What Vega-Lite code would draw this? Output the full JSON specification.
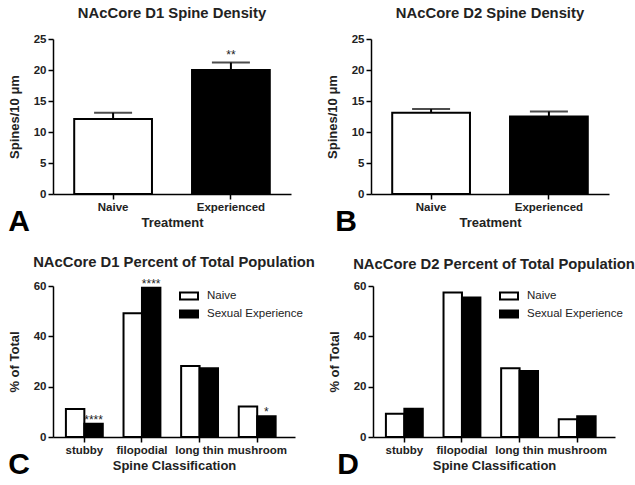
{
  "$schema": "https://vega.github.io/schema/vega-lite/v6.json",
  "padding": {"left": 8, "top": 6, "right": 5, "bottom": 5},
  "background": "white",
  "spacing": 17,
  "resolve": {"scale": {"fill": "independent"}, "legend": {"fill": "independent"}},
  "datasets": {
    "d1density": [
      {"treatment": "Naive", "mean": 12.1, "upper": 13.1, "sig": ""},
      {"treatment": "Experienced", "mean": 20.0, "upper": 21.2, "sig": "**"}
    ],
    "d2density": [
      {"treatment": "Naive", "mean": 13.1, "upper": 13.7, "sig": ""},
      {"treatment": "Experienced", "mean": 12.5, "upper": 13.3, "sig": ""}
    ],
    "d1pct": [
      {"category": "stubby", "group": "Naive", "value": 11.1, "sig": ""},
      {"category": "stubby", "group": "Sexual Experience", "value": 5.3, "sig": "****"},
      {"category": "filopodial", "group": "Naive", "value": 49.2, "sig": ""},
      {"category": "filopodial", "group": "Sexual Experience", "value": 59.3, "sig": "****"},
      {"category": "long thin", "group": "Naive", "value": 28.2, "sig": ""},
      {"category": "long thin", "group": "Sexual Experience", "value": 27.3, "sig": ""},
      {"category": "mushroom", "group": "Naive", "value": 12.1, "sig": ""},
      {"category": "mushroom", "group": "Sexual Experience", "value": 8.2, "sig": "*"}
    ],
    "d2pct": [
      {"category": "stubby", "group": "Naive", "value": 9.2, "sig": ""},
      {"category": "stubby", "group": "Sexual Experience", "value": 11.2, "sig": ""},
      {"category": "filopodial", "group": "Naive", "value": 57.4, "sig": ""},
      {"category": "filopodial", "group": "Sexual Experience", "value": 55.4, "sig": ""},
      {"category": "long thin", "group": "Naive", "value": 27.3, "sig": ""},
      {"category": "long thin", "group": "Sexual Experience", "value": 26.2, "sig": ""},
      {"category": "mushroom", "group": "Naive", "value": 7.1, "sig": ""},
      {"category": "mushroom", "group": "Sexual Experience", "value": 8.2, "sig": ""}
    ]
  },
  "config": {
    "font": "Liberation Sans",
    "view": {"stroke": null},
    "axis": {
      "domainColor": "black", "domainWidth": 1.5, "tickColor": "black", "tickWidth": 1.5, "tickSize": 5,
      "labelFont": "Liberation Sans", "labelFontWeight": "bold", "labelFontSize": 11.5, "labelColor": "#222",
      "titleFont": "Liberation Sans", "titleFontWeight": "bold", "titleFontSize": 13, "titleColor": "#222",
      "grid": false
    },
    "title": {"font": "Liberation Sans", "fontWeight": "bold", "fontSize": 14.8, "color": "#222"},
    "concat": {"spacing": 35}
  },
  "vconcat": [
    {
      "resolve": {"scale": {"fill": "independent"}, "legend": {"fill": "independent"}},
      "spacing": 35,
      "hconcat": [
        {
          "title": {"text": "A", "orient": "bottom", "anchor": "start", "fontSize": 30, "fontWeight": "bold", "color": "black", "offset": -23},
          "vconcat": [
            {
              "title": {"text": "NAcCore D1 Spine Density", "offset": 12},
              "width": 238, "height": 155,
              "data": {"name": "d1density"},
              "encoding": {
                "x": {"field": "treatment", "type": "nominal", "sort": null,
                  "scale": {"paddingInner": 0.34, "paddingOuter": 0.18},
                  "axis": {"title": "Treatment", "labelAngle": 0, "labelPadding": 2, "titlePadding": 4}}
              },
              "layer": [
                {"mark": {"type": "bar", "stroke": "black", "strokeWidth": 2},
                 "encoding": {
                   "y": {"field": "mean", "type": "quantitative", "scale": {"domain": [0, 25], "nice": false},
                     "axis": {"title": "Spines/10 μm", "values": [0, 5, 10, 15, 20, 25], "titlePadding": 12}},
                   "fill": {"field": "treatment", "type": "nominal", "scale": {"domain": ["Naive", "Experienced"], "range": ["white", "black"]}, "legend": null}
                 }},
                {"mark": {"type": "rule", "color": "black", "strokeWidth": 2},
                 "encoding": {"y": {"field": "mean", "type": "quantitative", "axis": {"title": "Spines/10 μm", "values": [0, 5, 10, 15, 20, 25], "titlePadding": 12}}, "y2": {"field": "upper"}}},
                {"mark": {"type": "tick", "color": "black", "size": 38, "thickness": 2},
                 "encoding": {"y": {"field": "upper", "type": "quantitative", "axis": {"title": "Spines/10 μm", "values": [0, 5, 10, 15, 20, 25], "titlePadding": 12}}}},
                {"mark": {"type": "text", "baseline": "bottom", "dy": -1, "fontSize": 12, "color": "#222"},
                 "encoding": {"y": {"field": "upper", "type": "quantitative", "axis": {"title": "Spines/10 μm", "values": [0, 5, 10, 15, 20, 25], "titlePadding": 12}}, "text": {"field": "sig"}}}
              ]
            }
          ]
        },
        {
          "title": {"text": "B", "orient": "bottom", "anchor": "start", "fontSize": 30, "fontWeight": "bold", "color": "black", "offset": -23, "dx": 9},
          "vconcat": [
            {
              "title": {"text": "NAcCore D2 Spine Density", "offset": 12},
              "width": 238, "height": 155,
              "data": {"name": "d2density"},
              "encoding": {
                "x": {"field": "treatment", "type": "nominal", "sort": null,
                  "scale": {"paddingInner": 0.34, "paddingOuter": 0.18},
                  "axis": {"title": "Treatment", "labelAngle": 0, "labelPadding": 2, "titlePadding": 4}}
              },
              "layer": [
                {"mark": {"type": "bar", "stroke": "black", "strokeWidth": 2},
                 "encoding": {
                   "y": {"field": "mean", "type": "quantitative", "scale": {"domain": [0, 25], "nice": false},
                     "axis": {"title": "Spines/10 μm", "values": [0, 5, 10, 15, 20, 25], "titlePadding": 12}},
                   "fill": {"field": "treatment", "type": "nominal", "scale": {"domain": ["Naive", "Experienced"], "range": ["white", "black"]}, "legend": null}
                 }},
                {"mark": {"type": "rule", "color": "black", "strokeWidth": 2},
                 "encoding": {"y": {"field": "mean", "type": "quantitative", "axis": {"title": "Spines/10 μm", "values": [0, 5, 10, 15, 20, 25], "titlePadding": 12}}, "y2": {"field": "upper"}}},
                {"mark": {"type": "tick", "color": "black", "size": 38, "thickness": 2},
                 "encoding": {"y": {"field": "upper", "type": "quantitative", "axis": {"title": "Spines/10 μm", "values": [0, 5, 10, 15, 20, 25], "titlePadding": 12}}}}
              ]
            }
          ]
        }
      ]
    },
    {
      "resolve": {"scale": {"fill": "independent"}, "legend": {"fill": "independent"}},
      "spacing": 13,
      "hconcat": [
        {
          "title": {"text": "C", "orient": "bottom", "anchor": "start", "fontSize": 30, "fontWeight": "bold", "color": "black", "offset": -23},
          "vconcat": [
            {
              "title": {"text": "NAcCore D1 Percent of Total Population", "offset": 8},
              "width": 242, "height": 151,
              "data": {"name": "d1pct"},
              "encoding": {
                "x": {"field": "category", "type": "nominal", "sort": null,
                  "scale": {"paddingInner": 0.36, "paddingOuter": 0.28, "align": 0.4},
                  "axis": {"title": "Spine Classification", "labelAngle": 0, "labelPadding": 2, "titlePadding": 4}},
                "xOffset": {"field": "group", "type": "nominal", "sort": null, "scale": {"paddingInner": 0, "paddingOuter": 0}},
                "y": {"field": "value", "type": "quantitative", "scale": {"domain": [0, 60], "nice": false},
                  "axis": {"title": "% of Total", "values": [0, 20, 40, 60], "titlePadding": 12}}
              },
              "layer": [
                {"mark": {"type": "bar", "stroke": "black", "strokeWidth": 2},
                 "encoding": {
                   "fill": {"field": "group", "type": "nominal", "scale": {"domain": ["Naive", "Sexual Experience"], "range": ["white", "black"]},
                     "legend": {"orient": "none", "legendX": 126, "legendY": 0, "title": null,
                       "symbolType": "M-1,-0.38H1V0.38H-1Z", "symbolSize": 324, "symbolStrokeColor": "black", "symbolStrokeWidth": 2,
                       "labelFont": "Liberation Sans", "labelFontSize": 11.5, "labelColor": "#222", "labelOffset": 8, "rowPadding": -3}}
                 }},
                {"mark": {"type": "text", "baseline": "bottom", "dy": 3, "fontSize": 12, "color": "#222"},
                 "encoding": {"text": {"field": "sig"}}}
              ]
            }
          ]
        },
        {
          "title": {"text": "D", "orient": "bottom", "anchor": "start", "fontSize": 30, "fontWeight": "bold", "color": "black", "offset": -23, "dx": 9},
          "vconcat": [
            {
              "title": {"text": "NAcCore D2 Percent of Total Population", "offset": 8},
              "width": 242, "height": 151,
              "data": {"name": "d2pct"},
              "encoding": {
                "x": {"field": "category", "type": "nominal", "sort": null,
                  "scale": {"paddingInner": 0.36, "paddingOuter": 0.28, "align": 0.4},
                  "axis": {"title": "Spine Classification", "labelAngle": 0, "labelPadding": 2, "titlePadding": 4}},
                "xOffset": {"field": "group", "type": "nominal", "sort": null, "scale": {"paddingInner": 0, "paddingOuter": 0}},
                "y": {"field": "value", "type": "quantitative", "scale": {"domain": [0, 60], "nice": false},
                  "axis": {"title": "% of Total", "values": [0, 20, 40, 60], "titlePadding": 12}}
              },
              "layer": [
                {"mark": {"type": "bar", "stroke": "black", "strokeWidth": 2},
                 "encoding": {
                   "fill": {"field": "group", "type": "nominal", "scale": {"domain": ["Naive", "Sexual Experience"], "range": ["white", "black"]},
                     "legend": {"orient": "none", "legendX": 126, "legendY": 0, "title": null,
                       "symbolType": "M-1,-0.38H1V0.38H-1Z", "symbolSize": 324, "symbolStrokeColor": "black", "symbolStrokeWidth": 2,
                       "labelFont": "Liberation Sans", "labelFontSize": 11.5, "labelColor": "#222", "labelOffset": 8, "rowPadding": -3}}
                 }}
              ]
            }
          ]
        }
      ]
    }
  ]
}
